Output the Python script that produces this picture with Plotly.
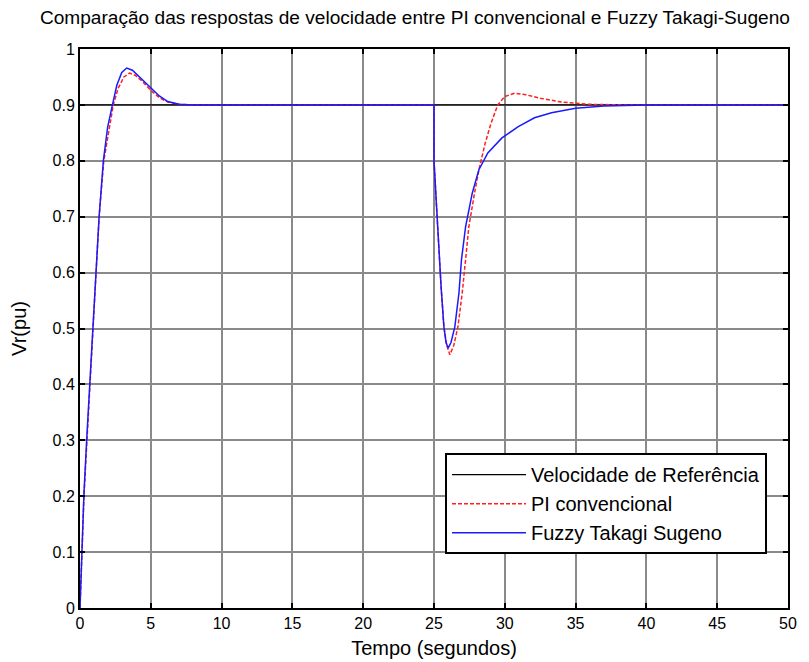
import plotly.graph_objects as go

# Time axis values (seconds) and responses (pu)
t_ref = [0, 50]
v_ref = [0.9, 0.9]

t_pi = [0, 0.17, 0.28, 0.47, 0.71, 0.95, 1.15, 1.35, 1.68, 2.0, 2.35, 2.7, 3.1, 3.5, 3.9, 4.4, 5.0, 5.6, 6.2, 7.0, 8.0,
        25.0, 25.0, 25.2, 25.34, 25.5, 25.7, 25.9, 26.12, 26.4, 26.69, 26.99, 27.23, 27.46, 27.86, 28.17, 28.6, 29.0,
        29.5, 30.0, 30.7, 31.5, 32.5, 34.0, 36.0, 38.5, 50.0]
v_pi = [0, 0.14, 0.2, 0.29, 0.4, 0.5, 0.6, 0.7, 0.8, 0.85, 0.9, 0.93, 0.95, 0.957, 0.953, 0.942, 0.926, 0.913, 0.905, 0.901, 0.9,
        0.9, 0.8, 0.707, 0.638, 0.575, 0.503, 0.47, 0.453, 0.47, 0.503, 0.563, 0.623, 0.682, 0.742, 0.784, 0.83, 0.865,
        0.9, 0.915, 0.921, 0.918, 0.912, 0.905, 0.901, 0.9, 0.9]

t_fz = [0, 0.17, 0.28, 0.47, 0.71, 0.95, 1.15, 1.35, 1.65, 1.95, 2.29, 2.6, 2.95, 3.3, 3.7, 4.2, 5.0, 5.6, 6.2, 7.0, 8.0,
        25.0, 25.0, 25.2, 25.34, 25.5, 25.7, 25.85, 26.0, 26.2, 26.47, 26.76, 26.94, 27.23, 27.7, 28.17, 28.8, 29.8,
        30.95, 32.1, 33.3, 35.0, 37.0, 40.0, 50.0]
v_fz = [0, 0.15, 0.205, 0.3, 0.41, 0.5, 0.6, 0.7, 0.8, 0.86, 0.9, 0.935, 0.958, 0.966, 0.962, 0.95, 0.93, 0.916, 0.906, 0.901, 0.9,
        0.9, 0.8, 0.707, 0.638, 0.575, 0.503, 0.475, 0.465, 0.475, 0.503, 0.563, 0.623, 0.682, 0.742, 0.784, 0.814, 0.841,
        0.861, 0.877, 0.886, 0.894, 0.898, 0.9, 0.9]

x_ticks = [0, 5, 10, 15, 20, 25, 30, 35, 40, 45, 50]
y_ticks = [0, 0.1, 0.2, 0.3, 0.4, 0.5, 0.6, 0.7, 0.8, 0.9, 1.0]
y_tick_labels = ["0", "0.1", "0.2", "0.3", "0.4", "0.5", "0.6", "0.7", "0.8", "0.9", "1"]

names = ["Velocidade de Referência", "PI convencional", "Fuzzy Takagi Sugeno"]

FONT = "Liberation Sans, Arial"

fig = go.Figure()
fig.add_trace(go.Scatter(x=t_ref, y=v_ref, mode="lines", name=names[0],
                         line=dict(color="black", width=1.2)))
fig.add_trace(go.Scatter(x=t_pi, y=v_pi, mode="lines", name=names[1],
                         line=dict(color="#ff2020", width=1.5, dash="4px,2px")))
fig.add_trace(go.Scatter(x=t_fz, y=v_fz, mode="lines", name=names[2],
                         line=dict(color="#1a1aff", width=1.5)))

axis_common = dict(
    showgrid=True, gridcolor="#8a8a8a", gridwidth=1.5,
    showline=True, linecolor="black", linewidth=2, mirror="ticks",
    ticks="inside", ticklen=5, tickcolor="black", tickwidth=1.5,
    zeroline=False, automargin=False,
    tickfont=dict(family=FONT, size=16, color="black"),
)

fig.update_layout(
    width=809, height=662,
    margin=dict(l=72, r=29, t=41, b=62),
    paper_bgcolor="white", plot_bgcolor="white",
    title=dict(text="Comparação das respostas de velocidade entre PI convencional e Fuzzy Takagi-Sugeno",
               x=0.503, xanchor="center", y=0.986, yanchor="middle",
               font=dict(family=FONT, size=19.1, color="black")),
    xaxis=dict(range=[0, 50], tickvals=x_ticks,
               title=dict(text="Tempo (segundos)", standoff=10,
                          font=dict(family=FONT, size=20, color="black")),
               **axis_common),
    yaxis=dict(range=[0, 1], tickvals=y_ticks, ticktext=y_tick_labels,
               title=dict(text="Vr(pu)", standoff=23,
                          font=dict(family=FONT, size=20, color="black")),
               **axis_common),
    legend=dict(x=0.5155, y=0.277, xanchor="left", yanchor="top",
                bgcolor="white", bordercolor="black", borderwidth=2,
                font=dict(family=FONT, size=20, color="black"),
                itemwidth=74, traceorder="normal"),
    showlegend=True,
)

fig.write_html("out.html")
